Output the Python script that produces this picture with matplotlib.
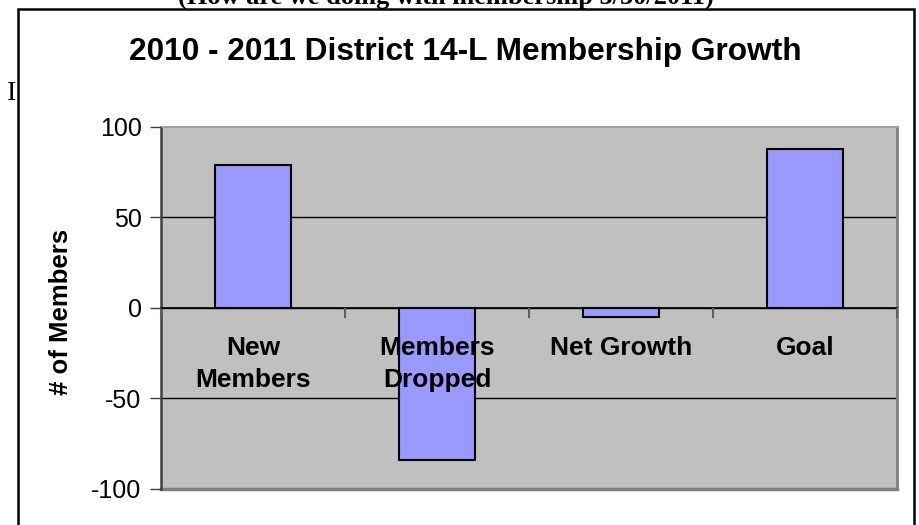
import numpy as np
import matplotlib.pyplot as plt
from matplotlib.patches import Rectangle
from matplotlib.lines import Line2D

categories = ["New\nMembers", "Members\nDropped", "Net Growth", "Goal"]
members = [79, -84, -5, 88]
y_ticks = [-100, -50, 0, 50, 100]

title = "2010 - 2011 District 14-L Membership Growth"
top_note = "(How are we doing with membership 3/30/2011)"

plt.rcParams['font.family'] = ['Liberation Sans', 'DejaVu Sans']

fig = plt.figure(figsize=(9.2, 5.25), dpi=100)
ax = fig.add_axes([161 / 920, 1 - 489 / 525, 736 / 920, 362 / 525])
ax.set_facecolor('#c0c0c0')
ax.set_axisbelow(False)  # category labels sit on top of the bars

# x axis runs along the zero line (set before ticks, it resets them)
ax.spines['bottom'].set_position(('data', 0))
ax.spines['bottom'].set_color('black')
ax.spines['bottom'].set_linewidth(1.2)
ax.spines['left'].set_color('#404040')
ax.spines['left'].set_linewidth(1.8)
ax.spines['top'].set_color('#a0a0a0')
ax.spines['top'].set_linewidth(1.5)
ax.spines['right'].set_color('#808080')
ax.spines['right'].set_linewidth(2)
ax.add_line(Line2D([0, 1], [0, 0], transform=ax.transAxes, color='#808080', linewidth=2.5, clip_on=False))

x = np.arange(1, len(categories) + 1)
ax.bar(x, members, width=0.41, color='#9999ff', edgecolor='black', linewidth=1.5, zorder=2)

ax.set_xlim(0.5, len(categories) + 0.5)
ax.set_ylim(y_ticks[0], y_ticks[-1])
ax.set_yticks(y_ticks)
ax.set_yticklabels([str(v) for v in y_ticks], fontsize=18)
for v in y_ticks[1:-1]:
    ax.axhline(v, color='black', linewidth=1, zorder=1)
ax.tick_params(axis='y', length=8, width=1, color='#404040', pad=6)

# category boundaries as major ticks, labels on minor ticks
ax.set_xticks(np.arange(0.5, len(categories) + 1, 1.0))
ax.set_xticklabels([])
ax.set_xticks(x, minor=True)
ax.set_xticklabels(categories, minor=True, fontsize=19, fontweight='bold', linespacing=1.42)
ax.tick_params(axis='x', which='major', direction='out', length=7, width=1.5, color='#606060')
ax.tick_params(axis='x', which='minor', length=0, pad=20)

ax.set_ylabel("# of Members", fontsize=18.5, fontweight='bold')
ax.yaxis.set_label_coords(-0.12, 0.49)

# chart frame and surrounding text
fig.add_artist(Rectangle((18 / 920, -0.05), 896 / 920, 1.05 - 9 / 525, transform=fig.transFigure,
                         facecolor='none', edgecolor='black', linewidth=1.8))
fig.text(465 / 920, 1 - 52 / 525, title, ha='center', va='center', fontsize=22.8, fontweight='bold')
fig.text(446 / 920, 1 - 4 / 525, top_note, ha='center', va='baseline', fontsize=19, fontweight='bold',
         family=['Liberation Serif', 'DejaVu Serif'])
fig.text(7 / 920, 1 - 93 / 525, "I", ha='left', va='center', fontsize=20, family=['Liberation Serif', 'DejaVu Serif'])

fig.savefig('out.png', dpi=100)
